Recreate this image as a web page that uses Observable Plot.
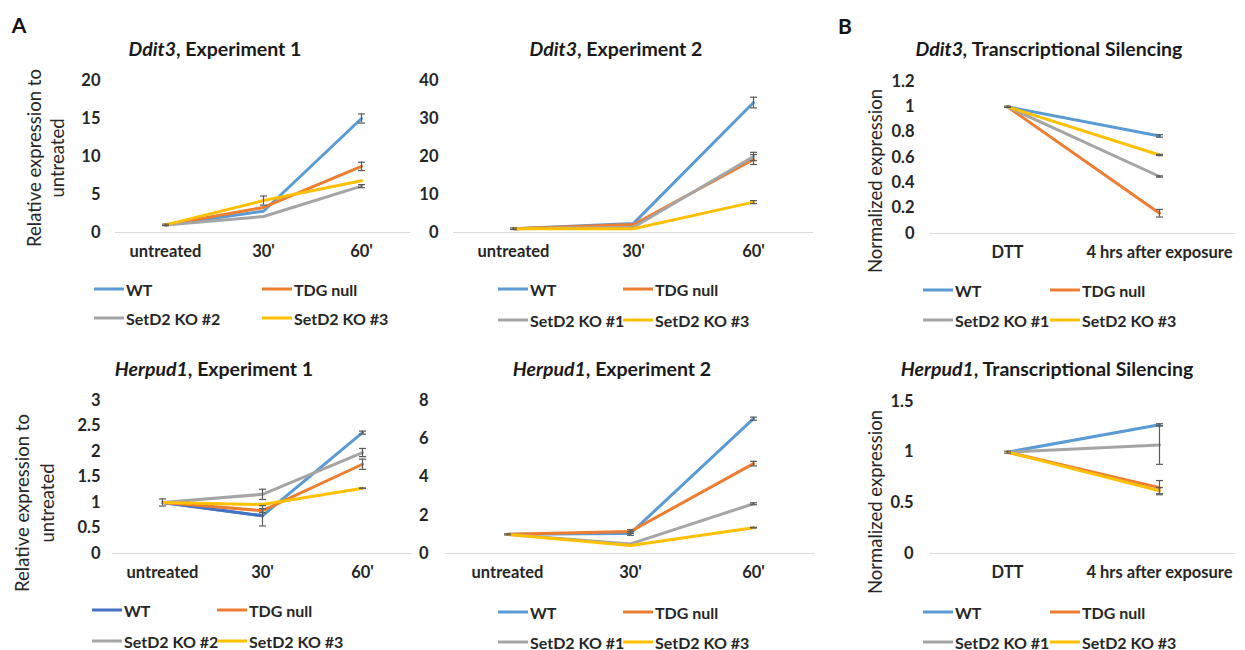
<!DOCTYPE html>
<html><head><meta charset="utf-8">
<script src="https://cdn.jsdelivr.net/npm/d3@7"></script>
<script src="https://cdn.jsdelivr.net/npm/@observablehq/plot@0.6"></script>
<style>
body{margin:0;background:#fff;font-family:Lato,"Open Sans",sans-serif;}
#fig{position:relative;width:1245px;height:650px;overflow:hidden;background:#fff;}
.abs{position:absolute;white-space:nowrap;}
.plabel{font-weight:700;font-size:21px;color:#111;transform:translate(-50%,-50%);}
.title{font-weight:700;font-size:19.5px;color:#1a1a1a;transform:translate(-50%,-50%);}
.ylab{font-size:18.5px;color:#262626;transform:translate(-50%,-50%) rotate(-90deg);text-align:center;line-height:23px;}
.leg{font-weight:700;font-size:16px;color:#262626;display:flex;align-items:center;transform:translateY(-50%);}
.leg .sw{display:inline-block;width:30px;height:3px;margin-right:2px;}
svg{position:absolute;}
</style></head>
<body><div id="fig"></div>
<script>
// ---------- data ----------
const timeCats = ["untreated", "30'", "60'"];
const silCats = ["DTT", "4 hrs after exposure"];
const seriesExp1 = ["WT", "TDG null", "SetD2 KO #2", "SetD2 KO #3"];
const seriesOther = ["WT", "TDG null", "SetD2 KO #1", "SetD2 KO #3"];
const seriesColors = ["#5B9BD5", "#ED7D31", "#A5A5A5", "#FFC000"];

// Ddit3, Experiment 1
const ddit3Exp1Values = [[1, 2.8, 15.0], [1, 3.3, 8.7], [1, 2.1, 6.1], [1, 4.2, 6.8]];
const ddit3Exp1Errors = [[0.1, 0, 0.6], [0, 0, 0.55], [0, 0, 0.2], [0, 0.6, 0]];
const ddit3Exp1Ticks = [0, 5, 10, 15, 20];
// Ddit3, Experiment 2
const ddit3Exp2Values = [[1, 2.4, 34.2], [1, 2.1, 19.2], [1, 1.4, 20.0], [1, 1.0, 8.0]];
const ddit3Exp2Errors = [[0.2, 0, 1.4], [0, 0, 1.3], [0, 0, 1.1], [0, 0, 0.4]];
const ddit3Exp2Ticks = [0, 10, 20, 30, 40];
// Ddit3, Transcriptional Silencing
const ddit3SilValues = [[1, 0.77], [1, 0.16], [1, 0.45], [1, 0.62]];
const ddit3SilErrors = [[0.005, 0.01], [0, 0.03], [0, 0.005], [0, 0.005]];
const ddit3SilTicks = [0, 0.2, 0.4, 0.6, 0.8, 1, 1.2];
// Herpud1, Experiment 1
const herpExp1Values = [[1, 0.74, 2.37], [1, 0.84, 1.75], [1, 1.16, 1.98], [1, 0.96, 1.28]];
const herpExp1Errors = [[0.07, 0.2, 0.03], [0, 0.04, 0.1], [0, 0.1, 0.08], [0, 0, 0.005]];
const herpExp1Ticks = [0, 0.5, 1, 1.5, 2, 2.5, 3];
// Herpud1, Experiment 2
const herpExp2Values = [[1, 1.05, 7.05], [1, 1.15, 4.7], [1, 0.5, 2.6], [1, 0.42, 1.35]];
const herpExp2Errors = [[0.03, 0.1, 0.08], [0, 0.1, 0.12], [0, 0, 0.05], [0, 0, 0.02]];
const herpExp2Ticks = [0, 2, 4, 6, 8];
// Herpud1, Transcriptional Silencing
const herpSilValues = [[1, 1.27], [1, 0.65], [1, 1.07], [1, 0.62]];
const herpSilErrors = [[0.01, 0.01], [0, 0.07], [0, 0.19], [0, 0.03]];
const herpSilTicks = [0, 0.5, 1, 1.5];

// ---------- layout ----------
const panels = [
  {title: ["Ddit3", ", Experiment 1"], tx: 215, ty: 48, cats: timeCats, series: seriesExp1, values: ddit3Exp1Values, errors: ddit3Exp1Errors, ticks: ddit3Exp1Ticks,
   left: 65, top: 70, x0: 115, x1: 410, y0: 80, y1: 232, pad: 15,
   ylab: ["Relative expression to", "untreated"], lx: 46, ly: 158,
   legX: [94, 262], legY: [289, 318]},
  {title: ["Ddit3", ", Experiment 2"], tx: 616, ty: 48, cats: timeCats, series: seriesOther, values: ddit3Exp2Values, errors: ddit3Exp2Errors, ticks: ddit3Exp2Ticks,
   left: 405, top: 70, x0: 453, x1: 813, y0: 80, y1: 232, pad: 15,
   legX: [498, 623], legY: [289, 320]},
  {title: ["Ddit3,", " Transcriptional Silencing"], tx: 1049, ty: 48, cats: silCats, series: seriesOther, values: ddit3SilValues, errors: ddit3SilErrors, ticks: ddit3SilTicks,
   left: 880, top: 70, x0: 930, x1: 1235, y0: 81, y1: 233, pad: 16,
   ylab: ["Normalized expression"], lx: 875, ly: 181,
   legX: [923, 1050], legY: [290, 320]},
  {title: ["Herpud1", ", Experiment 1"], tx: 214, ty: 368, cats: timeCats, series: seriesExp1, values: herpExp1Values, errors: herpExp1Errors, ticks: herpExp1Ticks,
   left: 60, top: 390, x0: 112, x1: 412, y0: 400, y1: 553, pad: 12,
   ylab: ["Relative expression to", "untreated"], lx: 35, ly: 503, lh: 25,
   legX: [92, 217], legY: [610, 641], wtFirst: "#4472C4"},
  {title: ["Herpud1", ", Experiment 2"], tx: 612, ty: 368, cats: timeCats, series: seriesOther, values: herpExp2Values, errors: herpExp2Errors, ticks: herpExp2Ticks,
   left: 405, top: 390, x0: 445, x1: 814, y0: 400, y1: 553, pad: 17,
   legX: [498, 623], legY: [612, 642]},
  {title: ["Herpud1", ", Transcriptional Silencing"], tx: 1047, ty: 368, cats: silCats, series: seriesOther, values: herpSilValues, errors: herpSilErrors, ticks: herpSilTicks,
   left: 880, top: 390, x0: 930, x1: 1235, y0: 401, y1: 553, pad: 17,
   ylab: ["Normalized expression"], lx: 875, ly: 502,
   legX: [923, 1050], legY: [612, 642]}
];

// horizontal cap symbol for error bars
const capSymbol = {draw(ctx) { ctx.moveTo(-3.5, 0); ctx.lineTo(3.5, 0); }};

const fig = document.getElementById("fig");
function addDiv(cls, x, y, html) {
  const d = document.createElement("div");
  d.className = "abs " + cls;
  d.style.left = x + "px"; d.style.top = y + "px";
  d.innerHTML = html;
  fig.appendChild(d);
  return d;
}
addDiv("plabel", 19, 24, "A");
addDiv("plabel", 845, 25, "B");

for (const p of panels) {
  const rows = [];
  p.series.forEach((s, i) => p.cats.forEach((c, j) => rows.push({series: s, cat: c, value: p.values[i][j], err: p.errors[i][j]})));
  const errRows = rows.filter(d => d.err > 0);
  const mb = 45, mr = 8;
  const ml = p.x0 - p.left, mt = p.y0 - p.top;
  const width = p.x1 - p.left + mr;
  const height = p.y1 - p.top + mb;
  const yMax = p.ticks[p.ticks.length - 1];
  const lineMarks = [];
  p.series.forEach((s, i) => {
    lineMarks.push(Plot.line(rows.filter(d => d.series === s), {x: "cat", y: "value", stroke: seriesColors[i], strokeWidth: 3, strokeLinejoin: "round", strokeLinecap: "round"}));
    if (i === 0 && p.wtFirst) {
      lineMarks.push(Plot.line(rows.filter(d => d.series === s).slice(0, 2), {x: "cat", y: "value", stroke: p.wtFirst, strokeWidth: 3, strokeLinejoin: "round", strokeLinecap: "round"}));
    }
  });
  const svg = Plot.plot({
    width, height, marginLeft: ml, marginRight: mr, marginTop: mt, marginBottom: mb,
    style: {fontFamily: "Lato, 'Open Sans', sans-serif", fontSize: "16.5px", fontWeight: "bold", color: "#262626", background: "transparent", overflow: "visible"},
    x: {type: "point", domain: p.cats, padding: 0.5, label: null, tickSize: 0, tickPadding: 13},
    y: {domain: [0, yMax], ticks: p.ticks, tickSize: 0, tickPadding: p.pad, label: null, tickFormat: d => String(d)},
    marks: [
      Plot.ruleY([0], {stroke: "#D9D9D9", strokeWidth: 1.2}),
      ...lineMarks,
      Plot.ruleX(errRows, {x: "cat", y1: d => d.value - d.err, y2: d => d.value + d.err, stroke: "#595959", strokeWidth: 1.2}),
      Plot.dot(errRows, {x: "cat", y: d => d.value + d.err, symbol: capSymbol, r: 3, fill: "none", stroke: "#595959", strokeWidth: 1.2}),
      Plot.dot(errRows, {x: "cat", y: d => d.value - d.err, symbol: capSymbol, r: 3, fill: "none", stroke: "#595959", strokeWidth: 1.2})
    ]
  });
  svg.style.left = p.left + "px";
  svg.style.top = p.top + "px";
  fig.appendChild(svg);

  addDiv("title", p.tx, p.ty, `<i>${p.title[0]}</i>${p.title[1]}`);
  if (p.ylab) {
    const d = addDiv("ylab", p.lx, p.ly, p.ylab.join("<br>"));
    if (p.lh) d.style.lineHeight = p.lh + "px";
  }
  p.series.forEach((s, i) => {
    const col = (i === 0 && p.wtFirst) ? p.wtFirst : seriesColors[i];
    addDiv("leg", p.legX[i % 2], p.legY[Math.floor(i / 2)], `<span class="sw" style="background:${col}"></span>${s}`);
  });
}
</script></body></html>
